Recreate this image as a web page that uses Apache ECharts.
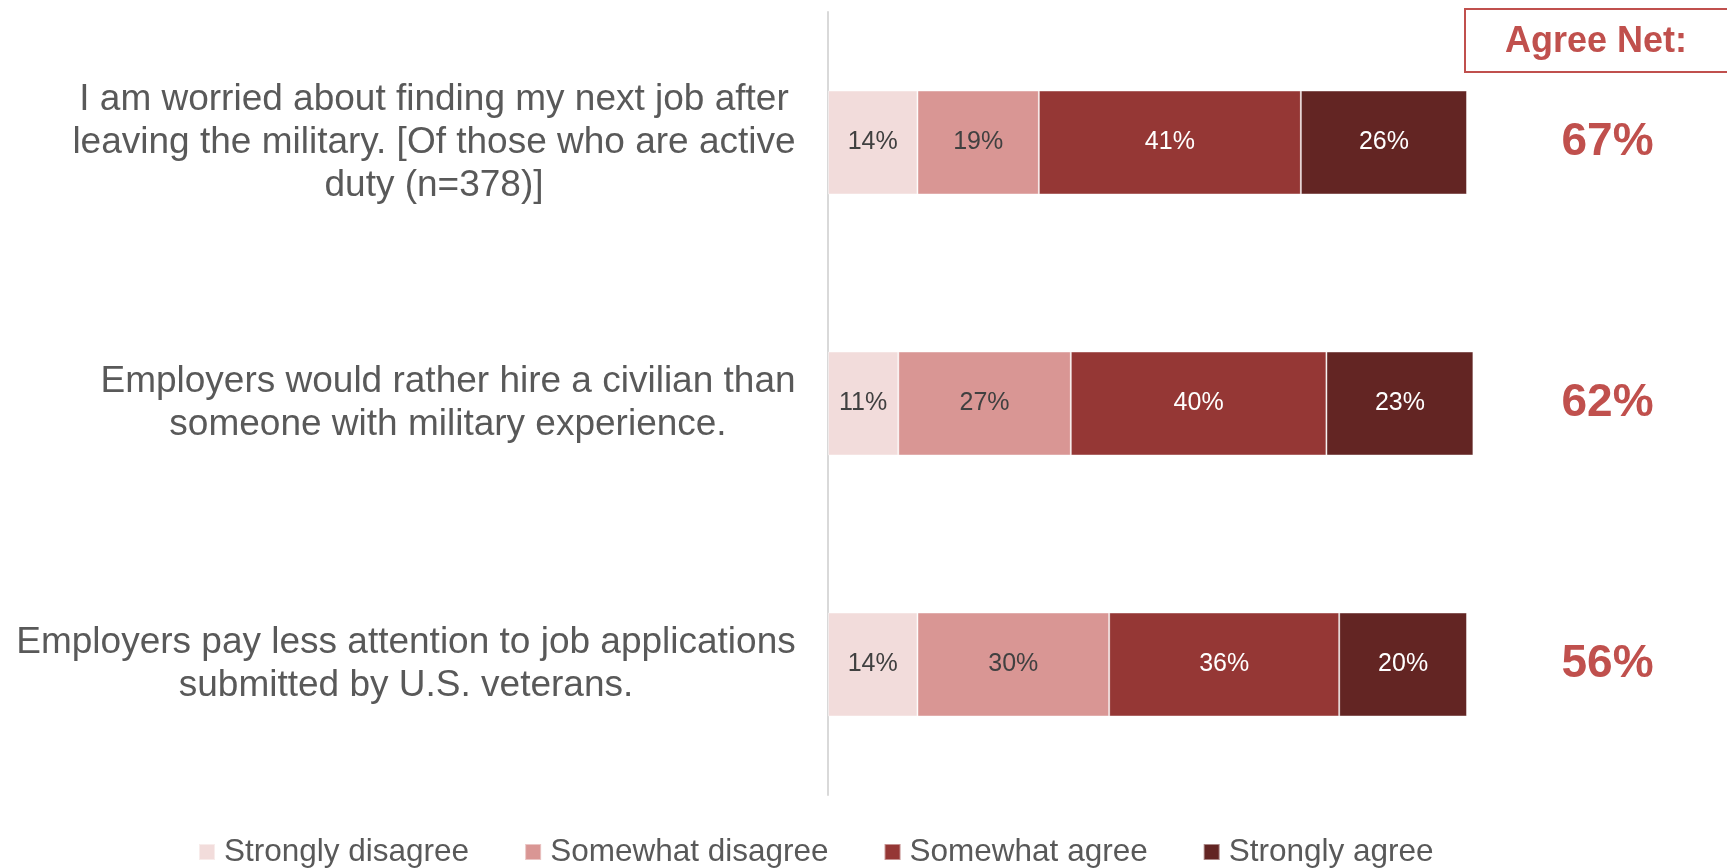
<!DOCTYPE html>
<html>
<head>
<meta charset="utf-8">
<script src="https://cdn.jsdelivr.net/npm/echarts@6/dist/echarts.min.js"></script>
<style>
  html, body { margin: 0; padding: 0; background: #ffffff; }
  #chart { width: 1727px; height: 868px; }
</style>
</head>
<body>
<div id="chart"></div>
<script>
// Survey statements (top to bottom)
const statements = [
  'I am worried about finding my next job after\nleaving the military. [Of those who are active\nduty (n=378)]',
  'Employers would rather hire a civilian than\nsomeone with military experience.',
  'Employers pay less attention to job applications\nsubmitted by U.S. veterans.'
];
const seriesNames = ['Strongly disagree', 'Somewhat disagree', 'Somewhat agree', 'Strongly agree'];
const stronglyDisagree = [14, 11, 14];
const somewhatDisagree = [19, 27, 30];
const somewhatAgree = [41, 40, 36];
const stronglyAgree = [26, 23, 20];
const agreeNet = [67, 62, 56];
const netHeading = 'Agree Net:';

const colors = ['#f2dcdb', '#d99694', '#953735', '#632523'];
const labelColors = ['#404040', '#404040', '#ffffff', '#ffffff'];
const FONT = '"Liberation Sans", Arial, sans-serif';
const CAT_SIZE = 37;

// Measure each statement's widest line so lines can be centred inside a right-aligned block
const ctx = document.createElement('canvas').getContext('2d');
ctx.font = CAT_SIZE + 'px ' + FONT;
const blockWidths = statements.map(s => Math.ceil(Math.max(...s.split('\n').map(l => ctx.measureText(l).width))) + 2);
const rich = {};
blockWidths.forEach((w, i) => {
  rich['c' + i] = { width: w, align: 'center', fontSize: CAT_SIZE, lineHeight: 43, color: '#595959', fontFamily: FONT };
});

const values = [stronglyDisagree, somewhatDisagree, somewhatAgree, stronglyAgree];

const barSeries = seriesNames.map((name, k) => ({
  name: name,
  type: 'bar',
  stack: 'total',
  barWidth: 104,
  xAxisIndex: 0,
  yAxisIndex: 0,
  data: values[k],
  itemStyle: { color: colors[k], borderColor: 'rgba(255,255,255,0.45)', borderWidth: 1 },
  label: {
    show: true,
    position: 'inside',
    formatter: p => p.value + '%',
    color: labelColors[k],
    fontSize: 25,
    fontFamily: FONT
  }
}));

const chart = echarts.init(document.getElementById('chart'), null, { renderer: 'canvas' });
chart.setOption({
  animation: false,
  backgroundColor: '#ffffff',
  grid: [
    { left: 828, top: 12, width: 6.39 * 101, height: 783, containLabel: false },
    { left: 1500, top: 12, width: 215, height: 783, containLabel: false }
  ],
  xAxis: [
    { type: 'value', gridIndex: 0, min: 0, max: 101, show: false },
    { type: 'value', gridIndex: 1, min: 0, max: 1, show: false }
  ],
  yAxis: [
    {
      type: 'category',
      gridIndex: 0,
      inverse: true,
      data: statements,
      axisLine: { show: true, lineStyle: { color: '#d9d9d9', width: 2 } },
      axisTick: { show: false },
      axisLabel: {
        margin: 31,
        align: 'right',
        formatter: (v, i) => v.split('\n').map(l => '{c' + i + '|' + l + '}').join('\n'),
        rich: rich
      }
    },
    { type: 'category', gridIndex: 1, inverse: true, data: statements, show: false }
  ],
  legend: {
    data: seriesNames,
    left: 193,
    top: 831,
    itemWidth: 16,
    itemHeight: 16,
    itemGap: 55,
    icon: 'rect',
    textStyle: { fontSize: 31.5, color: '#595959', fontFamily: FONT, padding: [0, 0, 0, 4] }
  },
  graphic: [
    {
      type: 'rect',
      shape: { x: 1465, y: 9, width: 280, height: 63 },
      style: { fill: 'none', stroke: '#c0504d', lineWidth: 2 }
    },
    {
      type: 'text',
      x: 1596,
      y: 42,
      style: {
        text: netHeading,
        fill: '#c0504d',
        font: 'bold 36px ' + FONT,
        textAlign: 'center',
        textVerticalAlign: 'middle'
      }
    }
  ],
  series: barSeries.concat([{
    type: 'scatter',
    xAxisIndex: 1,
    yAxisIndex: 1,
    symbolSize: 0,
    itemStyle: { opacity: 1 },
    emphasis: { disabled: true },
    data: agreeNet.map((v, i) => [0.5, i, v]),
    label: {
      show: true,
      position: 'inside',
      formatter: p => p.value[2] + '%',
      color: '#c0504d',
      opacity: 1,
      fontSize: 46,
      fontWeight: 'bold',
      fontFamily: FONT
    }
  }])
});
</script>
</body>
</html>
